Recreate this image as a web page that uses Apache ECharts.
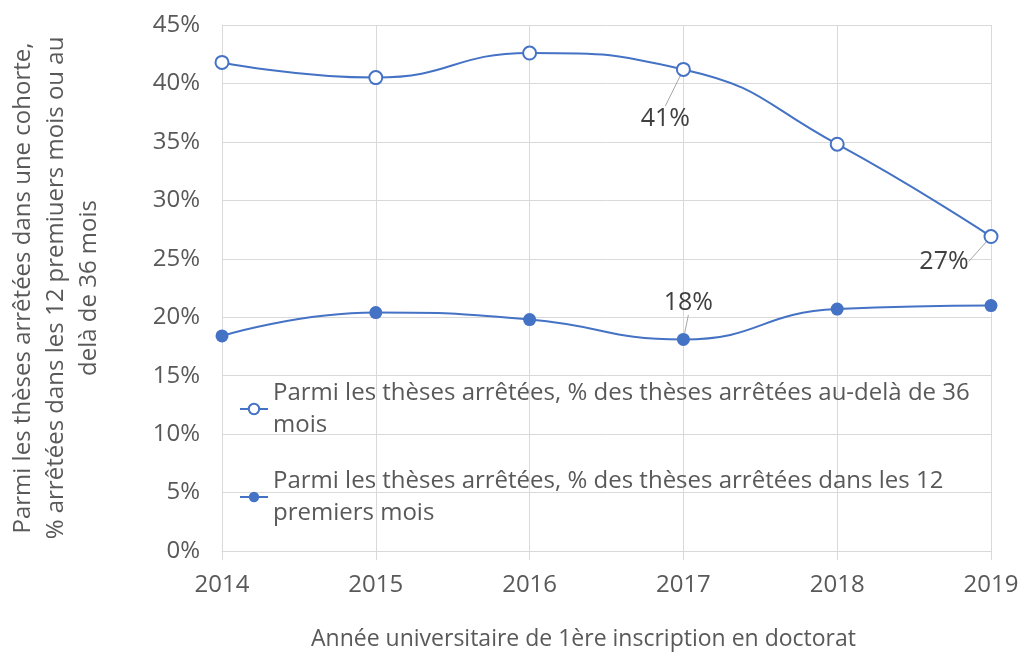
<!DOCTYPE html>
<html>
<head>
<meta charset="utf-8">
<script src="https://cdn.jsdelivr.net/npm/echarts@6/dist/echarts.min.js"></script>
<style>
  html, body { margin: 0; padding: 0; background: #fff; }
  #chart { width: 1021px; height: 652px; }
</style>
</head>
<body>
<div id="chart"></div>
<script>
// données
const annees = ['2014', '2015', '2016', '2017', '2018', '2019']
const au36 = [41.8, 40.5, 42.6, 41.2, 34.8, 26.9]
const dans12 = [18.4, 20.4, 19.8, 18.1, 20.7, 21.0]
const yTicks = [0, 5, 10, 15, 20, 25, 30, 35, 40, 45]

const nomAu36 = 'Parmi les thèses arrêtées, % des thèses arrêtées au-delà de 36 mois'
const nomDans12 = 'Parmi les thèses arrêtées, % des thèses arrêtées dans les 12 premiers mois'

const bleu = '#4472c4'
const gris = '#595959'
const police = '"Open Sans", "Noto Sans", sans-serif'

// étiquettes affichées seulement pour certains points
function avecEtiquettes (valeurs, indices) {
  return valeurs.map((v, i) => {
    if (indices.indexOf(i) < 0) return v
    return { value: v, label: { show: true } }
  })
}

const chart = echarts.init(document.getElementById('chart'))

chart.setOption({
  animation: false,
  textStyle: { fontFamily: police },
  grid: { left: 222, right: 30, top: 25, bottom: 101, outerBoundsMode: 'none', containLabel: false },
  legend: {
    orient: 'vertical',
    left: 234,
    top: 372,
    itemGap: 24,
    itemWidth: 28,
    itemHeight: 13,
    data: [nomAu36, nomDans12],
    formatter: name => name === nomAu36
      ? 'Parmi les thèses arrêtées, % des thèses arrêtées au-delà de 36\nmois'
      : 'Parmi les thèses arrêtées, % des thèses arrêtées dans les 12\npremiers mois',
    textStyle: { fontSize: 24, color: gris, lineHeight: 32, fontFamily: police }
  },
  xAxis: {
    type: 'category',
    data: annees,
    boundaryGap: false,
    name: 'Année universitaire de 1ère inscription en doctorat',
    nameLocation: 'middle',
    nameGap: 77,
    nameTextStyle: { fontSize: 23, color: gris, padding: [0, 46, 0, 0] },
    axisLine: { lineStyle: { color: '#d9d9d9' } },
    axisTick: { show: true, length: 9, lineStyle: { color: '#d9d9d9' } },
    axisLabel: { fontSize: 24, color: gris, margin: 22 },
    splitLine: { show: true, lineStyle: { color: '#d9d9d9' } }
  },
  yAxis: {
    type: 'value',
    min: yTicks[0],
    max: yTicks[yTicks.length - 1],
    interval: 5,
    name: 'Parmi les thèses arrêtées dans une cohorte,\n% arrêtées dans les 12 premiuers mois ou au\ndelà de 36 mois',
    nameLocation: 'middle',
    nameRotate: 90,
    nameGap: 116,
    nameTextStyle: { fontSize: 24, color: gris, lineHeight: 33, align: 'center' },
    axisLine: { show: true, lineStyle: { color: '#d9d9d9' } },
    axisTick: { show: false },
    axisLabel: { fontSize: 24, color: gris, margin: 22, formatter: '{value}%' },
    splitLine: { lineStyle: { color: '#d9d9d9' } }
  },
  series: [
    {
      name: nomAu36,
      type: 'line',
      smooth: 0.5,
      data: avecEtiquettes(au36, [3, 5]),
      symbol: 'emptyCircle',
      symbolSize: 13,
      lineStyle: { color: bleu, width: 2 },
      itemStyle: { color: bleu, borderWidth: 2 },
      label: {
        show: false,
        fontSize: 25,
        color: '#404040',
        formatter: p => Math.round(p.value) + '%'
      },
      labelLine: { show: true, lineStyle: { color: '#a6a6a6', width: 1 } },
      labelLayout: p => {
        if (p.dataIndex === 3) return { dx: -18, dy: 74 }
        if (p.dataIndex === 5) return { dx: -47, dy: 50 }
        return {}
      }
    },
    {
      name: nomDans12,
      type: 'line',
      smooth: 0.5,
      data: avecEtiquettes(dans12, [3]),
      symbol: 'circle',
      symbolSize: 13,
      lineStyle: { color: bleu, width: 2 },
      itemStyle: { color: bleu },
      label: {
        show: false,
        fontSize: 25,
        color: '#404040',
        formatter: p => Math.round(p.value) + '%'
      },
      labelLine: { show: true, lineStyle: { color: '#a6a6a6', width: 1 } },
      labelLayout: p => {
        if (p.dataIndex === 3) return { dx: 5, dy: -13 }
        return {}
      }
    }
  ]
})
</script>
</body>
</html>
